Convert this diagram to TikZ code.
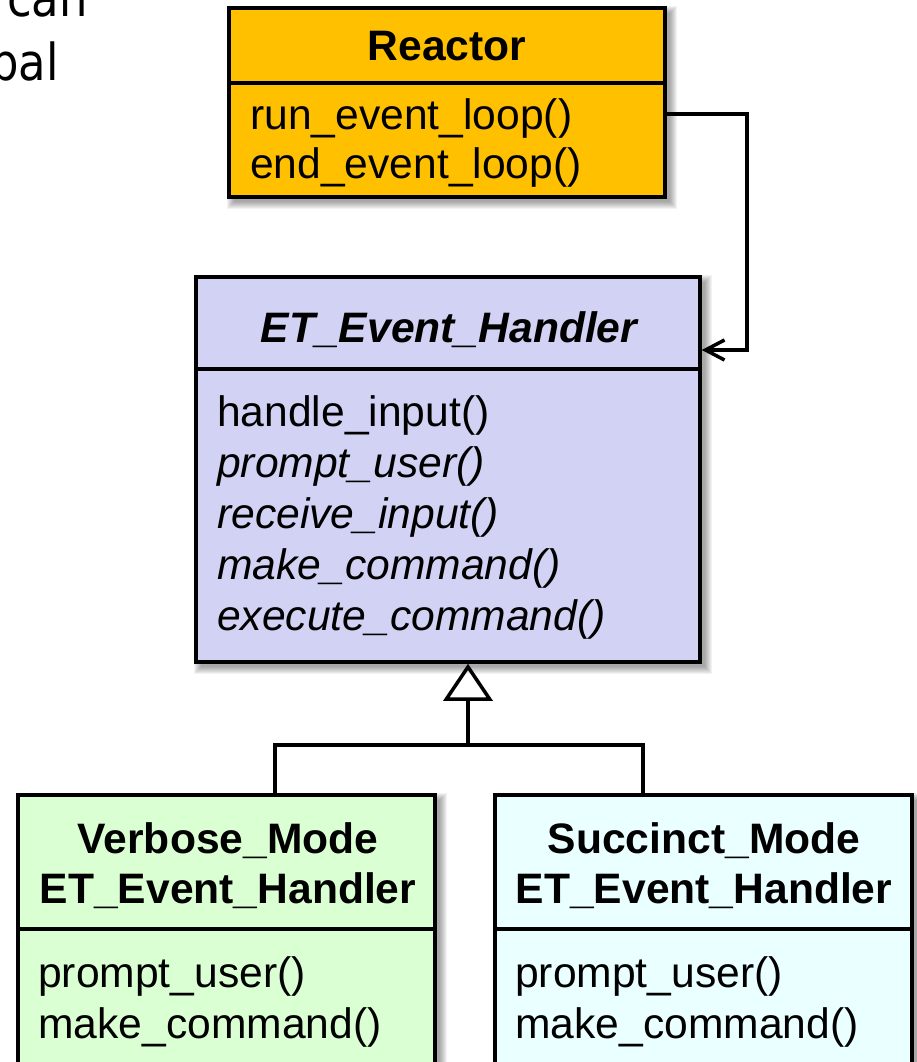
\documentclass[tikz,border=0pt]{standalone}
\usepackage{fontspec}
\setmainfont{Liberation Sans}
\newfontfamily\slidefont[FakeStretch=0.88]{DejaVu Sans}
\usetikzlibrary{arrows.meta,backgrounds}

\definecolor{reactorgold}{HTML}{FFC000}
\definecolor{handlerlav}{HTML}{D2D2F4}
\definecolor{verbosegreen}{HTML}{DAFFD2}
\definecolor{succinctcyan}{HTML}{EAFFFF}

\tikzset{
  umlbox/.style={draw=black, line width=3.5pt, rectangle, inner sep=0pt},
  classtitle/.style={font=\bfseries\fontsize{42.6}{51}\selectfont, anchor=base, inner sep=0pt},
  abstitle/.style={font=\bfseries\itshape\fontsize{42.6}{51}\selectfont, anchor=base, inner sep=0pt},
  method/.style={font=\fontsize{42.6}{51}\selectfont, anchor=base west, inner sep=0pt},
  absmethod/.style={font=\itshape\fontsize{42.6}{51}\selectfont, anchor=base west, inner sep=0pt},
  link/.style={draw=black, line width=3.5pt},
  slidetext/.style={font=\slidefont\fontsize{51}{62}\selectfont, anchor=base east, inner sep=0pt},
}

\begin{document}
\begin{tikzpicture}[x=1pt, y=-1pt]
\useasboundingbox (0,0) rectangle (917,1062);

% slide text running in from the left
\node[slidetext] (frag1) at (88,17) {can};
\node[slidetext] (frag2) at (59,81) {bal};

% Reactor
\node[umlbox, fill=reactorgold, minimum width=436pt, minimum height=75pt] (rHead) at (447,45.5) {};
\node[umlbox, fill=reactorgold, minimum width=436pt, minimum height=114pt] (rBody) at (447,140) {};
\node[classtitle] (rTitle) at (447,61) {Reactor};
\node[method] (rM1) at (250,129) {run\_event\_loop()};
\node[method] (rM2) at (250,178) {end\_event\_loop()};

% ET_Event_Handler
\node[umlbox, fill=handlerlav, minimum width=504pt, minimum height=92pt] (etHead) at (448,323) {};
\node[umlbox, fill=handlerlav, minimum width=504pt, minimum height=293pt] (etBody) at (448,515.5) {};
\node[abstitle] (etTitle) at (449,342) {ET\_Event\_Handler};
\node[method]    (etM1) at (217,426) {handle\_input()};
\node[absmethod] (etM2) at (217,477) {prompt\_user()};
\node[absmethod] (etM3) at (217,528) {receive\_input()};
\node[absmethod] (etM4) at (217,579) {make\_command()};
\node[absmethod] (etM5) at (217,630) {execute\_command()};

% Verbose_Mode ET_Event_Handler
\node[umlbox, fill=verbosegreen, minimum width=417pt, minimum height=134pt] (vHead) at (226.5,862) {};
\node[umlbox, fill=verbosegreen, minimum width=417pt, minimum height=142pt] (vBody) at (226.5,1000) {};
\node[classtitle] (vT1) at (228,853) {Verbose\_Mode};
\node[classtitle] (vT2) at (228,903) {ET\_Event\_Handler};
\node[method] (vM1) at (38,987) {prompt\_user()};
\node[method] (vM2) at (38,1038) {make\_command()};

% Succinct_Mode ET_Event_Handler
\node[umlbox, fill=succinctcyan, minimum width=417pt, minimum height=134pt] (sHead) at (703.5,862) {};
\node[umlbox, fill=succinctcyan, minimum width=417pt, minimum height=142pt] (sBody) at (703.5,1000) {};
\node[classtitle] (sT1) at (704,853) {Succinct\_Mode};
\node[classtitle] (sT2) at (704,903) {ET\_Event\_Handler};
\node[method] (sM1) at (515,987) {prompt\_user()};
\node[method] (sM2) at (515,1038) {make\_command()};

% soft shadows behind the class boxes
\begin{scope}[on background layer]
  \foreach \hd/\bd in {rHead/rBody, etHead/etBody, vHead/vBody, sHead/sBody}{
    \foreach \k in {1,...,8}{
      \fill[black, opacity=0.05]
        ([xshift={(8-\k)*1pt}, yshift={(\k-8)*1pt}]\hd.north west) rectangle
        ([xshift={(\k+2)*1pt}, yshift={-(\k+2)*1pt}]\bd.south east);
    }
  }
\end{scope}

% Reactor dispatches to the handler
\coordinate (rc) at (747,114);
\coordinate (ac) at (747,350);
\draw[link, -{Straight Barb[length=19pt, width=20pt]}]
  (rc -| rBody.east) -- (rc) -- (ac) -- (ac -| etHead.east);

% inheritance
\coordinate (jn) at (468,745);
\coordinate (vx) at (275,0);
\coordinate (sx) at (643,0);
\draw[link] (vx |- vHead.north) |- (jn) -| (sx |- sHead.north);
\draw[link, -{Triangle[open, length=37pt, width=49pt]}] (jn) -- (jn |- etBody.south);

\end{tikzpicture}
\end{document}
